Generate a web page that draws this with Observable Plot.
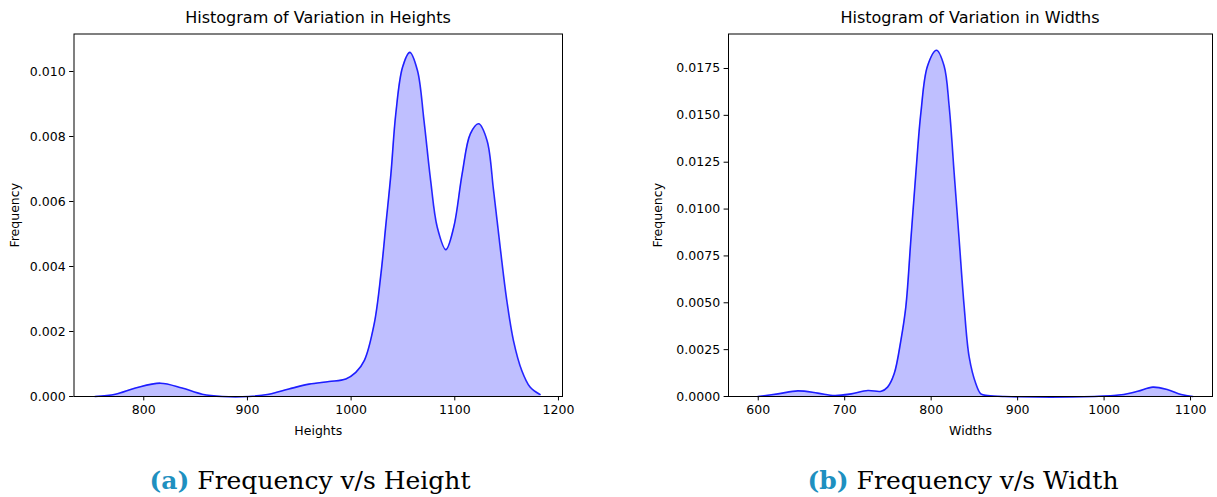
<!DOCTYPE html>
<html>
<head>
<meta charset="utf-8">
<script src="https://cdn.jsdelivr.net/npm/d3@7"></script>
<script src="https://cdn.jsdelivr.net/npm/@observablehq/plot@0.6"></script>
<style>
  html, body { margin: 0; padding: 0; background: #fff; }
  #fig { position: relative; width: 1217px; height: 497px; overflow: hidden; background: #fff; }
  .panel { position: absolute; top: 0; }
  .title { position: absolute; font-family: "DejaVu Sans", sans-serif; font-size: 16px; color: #000; white-space: nowrap; transform: translateX(-50%); }
  .caption { position: absolute; font-family: "DejaVu Serif", serif; font-size: 25px; color: #000; white-space: nowrap; transform: translateX(-50%); }
  .caption b { color: #1e90c0; }
</style>
</head>
<body>
<div id="fig"></div>
<script>
// Heights KDE curve (x = height, y = density)
const heightX = [753, 772.6, 792, 816, 837, 856.4, 875.7, 901.4, 920.8, 940, 959.4, 978.7, 994.9, 1004.5, 1012.8, 1022.3, 1028.8, 1033.6, 1038.4, 1043.1, 1049.6, 1056.6, 1064, 1070.3, 1076.7, 1083.1, 1091.4, 1099, 1107.1, 1115, 1123, 1131.1, 1137.4, 1143.8, 1150.2, 1156.6, 1164.6, 1172.6, 1182.2];
const heightY = [0, 0.00007, 0.00026, 0.00041, 0.00026, 0.00007, 0, 0, 0.00007, 0.00023, 0.00038, 0.00046, 0.00054, 0.00074, 0.00111, 0.00224, 0.00378, 0.00531, 0.00685, 0.0087, 0.01013, 0.01059, 0.01003, 0.00849, 0.00665, 0.00521, 0.00452, 0.00521, 0.00685, 0.00808, 0.00839, 0.00788, 0.00634, 0.00459, 0.00295, 0.00172, 0.0008, 0.00029, 0.00006];

// Widths KDE curve
const widthX = [599.6, 622.7, 645.8, 668.9, 688.3, 707.5, 726.8, 742.2, 749.6, 757.2, 765, 770.7, 776.5, 782.3, 788.1, 795.8, 806.2, 815, 820.8, 826.6, 832.4, 838.2, 844, 851.7, 857.5, 865.6, 884.9, 989, 1019.8, 1039, 1056.4, 1073.8, 1089.2, 1102.7];
const widthY = [0, 0.00014, 0.0003, 0.00018, 0.00005, 0.00014, 0.00032, 0.00028, 0.0005, 0.00121, 0.003, 0.00478, 0.00835, 0.01192, 0.01513, 0.01763, 0.01847, 0.01763, 0.01549, 0.01192, 0.00835, 0.00478, 0.0021, 0.00068, 0.00014, 0.00005, 0, 0, 0.00009, 0.00028, 0.0005, 0.00036, 0.00011, 0];

const heightTicksX = [800, 900, 1000, 1100, 1200];
const heightTicksY = [0, 0.002, 0.004, 0.006, 0.008, 0.010];
const widthTicksX = [600, 700, 800, 900, 1000, 1100];
const widthTicksY = [0, 0.0025, 0.005, 0.0075, 0.01, 0.0125, 0.015, 0.0175];

const titles = ["Histogram of Variation in Heights", "Histogram of Variation in Widths"];
const xLabels = ["Heights", "Widths"];
const yLabel = "Frequency";
const captionTags = ["(a)", "(b)"];
const captionTexts = ["Frequency v/s Height", "Frequency v/s Width"];

const fig = document.getElementById("fig");

function makePanel(cfg) {
  const data = cfg.xs.map((x, i) => ({x, y: cfg.ys[i]}));
  const curve = "catmull-rom";
  const plot = Plot.plot({
    width: cfg.width,
    height: 460,
    marginLeft: cfg.marginLeft,
    marginRight: cfg.marginRight,
    marginTop: 33.5,
    marginBottom: 64,
    style: {fontFamily: "DejaVu Sans, sans-serif", fontSize: "12.5px", color: "#000", background: "transparent", overflow: "visible"},
    x: {domain: cfg.xDomain},
    y: {domain: cfg.yDomain},
    marks: [
      Plot.areaY(data, {x: "x", y: "y", fill: "blue", fillOpacity: 0.25, curve}),
      Plot.line(data, {x: "x", y: "y", stroke: "blue", strokeWidth: 1.6, strokeOpacity: 0.85, curve}),
      Plot.frame({stroke: "#000", strokeWidth: 1}),
      Plot.axisX({ticks: cfg.xTicks, tickSize: 4.4, tickPadding: 4, tickFormat: d3.format("d"),
        label: cfg.xLabel, labelAnchor: "center", labelArrow: "none", labelOffset: 38}),
      Plot.axisY({ticks: cfg.yTicks, tickSize: 4.4, tickPadding: 4, tickFormat: d3.format(cfg.yFormat),
        label: yLabel, labelAnchor: "center", labelArrow: "none", labelOffset: cfg.yLabelOffset})
    ]
  });
  plot.classList.add("panel");
  plot.style.left = cfg.left + "px";
  fig.appendChild(plot);

  const t = document.createElement("div");
  t.className = "title";
  t.textContent = cfg.title;
  t.style.left = cfg.titleCenter + "px";
  t.style.top = "8px";
  fig.appendChild(t);

  const c = document.createElement("div");
  c.className = "caption";
  const b = document.createElement("b");
  b.textContent = cfg.tag;
  c.appendChild(b);
  c.appendChild(document.createTextNode(" " + cfg.caption));
  c.style.left = cfg.captionCenter + "px";
  c.style.top = "466px";
  fig.appendChild(c);
}

makePanel({
  xs: heightX, ys: heightY, width: 610, left: 0, marginLeft: 73.5, marginRight: 48,
  xDomain: [732.7, 1203.9], yDomain: [0, 0.011154],
  xTicks: heightTicksX, yTicks: heightTicksY, yFormat: ".3f",
  xLabel: xLabels[0], yLabelOffset: 64,
  title: titles[0], titleCenter: 318, tag: captionTags[0], caption: captionTexts[0], captionCenter: 310
});

makePanel({
  xs: widthX, ys: widthY, width: 607, left: 610, marginLeft: 118, marginRight: 5,
  xDomain: [565.6, 1125.4], yDomain: [0, 0.01934],
  xTicks: widthTicksX, yTicks: widthTicksY, yFormat: ".4f",
  xLabel: xLabels[1], yLabelOffset: 75,
  title: titles[1], titleCenter: 970, tag: captionTags[1], caption: captionTexts[1], captionCenter: 963
});
</script>
</body>
</html>
